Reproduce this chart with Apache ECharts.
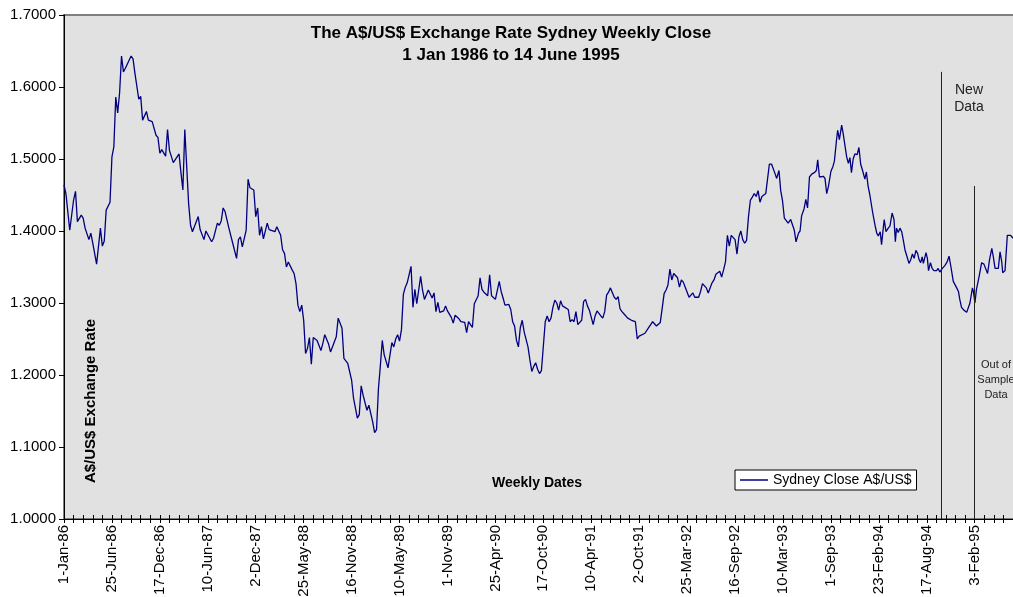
<!DOCTYPE html>
<html>
<head>
<meta charset="UTF-8">
<title>A$/US$ Exchange Rate Sydney Weekly Close</title>
<script src="https://cdn.jsdelivr.net/npm/echarts@6/dist/echarts.min.js"></script>
<style>
    html, body { margin: 0; padding: 0; background: #fff; }
    #main { width: 1013px; height: 597px; }
</style>
</head>
<body>
<div id="main"></div>
<script>
// tick labels, one every 25 weeks
var dateLabels = ['1-Jan-86', '25-Jun-86', '17-Dec-86', '10-Jun-87', '2-Dec-87', '25-May-88', '16-Nov-88',
    '10-May-89', '1-Nov-89', '25-Apr-90', '17-Oct-90', '10-Apr-91', '2-Oct-91', '25-Mar-92', '16-Sep-92',
    '10-Mar-93', '1-Sep-93', '23-Feb-94', '17-Aug-94', '3-Feb-95'];

// [week since 1-Jan-86, A$/US$ close]
var closeByWeek = [
    [0,1.464],[1,1.452],[3,1.401],[5,1.443],[6,1.455],[7,1.413],[8,1.411],[9,1.422],[10,1.418],[11,1.404],
    [13,1.388],[14,1.397],[15,1.383],[17,1.354],[18,1.355],[19,1.404],[20,1.379],[21,1.386],[22,1.429],[24,1.440],
    [25,1.503],[26,1.517],[27,1.586],[28,1.564],[29,1.592],[30,1.643],[31,1.621],[32,1.626],[33,1.624],[35,1.643],
    [36,1.639],[37,1.619],[39,1.583],[40,1.587],[41,1.554],[43,1.566],[44,1.554],[45,1.556],[46,1.552],[47,1.550],
    [48,1.533],[49,1.530],[50,1.508],[51,1.513],[53,1.504],[54,1.541],[55,1.512],[56,1.511],[57,1.495],[60,1.507],
    [61,1.481],[62,1.457],[63,1.541],[65,1.438],[66,1.408],[67,1.399],[68,1.399],[70,1.420],[71,1.402],[73,1.388],
    [74,1.400],[75,1.398],[77,1.385],[78,1.390],[79,1.392],[80,1.411],[81,1.408],[82,1.414],[83,1.432],[84,1.427],
    [86,1.404],[87,1.403],[88,1.383],[90,1.362],[91,1.388],[92,1.392],[93,1.378],[94,1.379],[95,1.401],[96,1.472],
    [97,1.460],[99,1.457],[100,1.420],[101,1.432],[102,1.394],[103,1.406],[104,1.389],[105,1.389],[106,1.411],[107,1.402],
    [108,1.403],[110,1.399],[111,1.406],[113,1.394],[114,1.374],[115,1.369],[116,1.350],[117,1.357],[119,1.346],[120,1.341],
    [121,1.327],[122,1.297],[123,1.288],[124,1.297],[125,1.276],[126,1.230],[127,1.237],[128,1.252],[129,1.215],[130,1.252],
    [131,1.254],[132,1.248],[134,1.234],[135,1.244],[136,1.256],[138,1.243],[139,1.232],[140,1.239],[141,1.241],[142,1.253],
    [143,1.279],[144,1.277],[145,1.265],[146,1.223],[148,1.216],[149,1.214],[150,1.193],[151,1.168],[153,1.140],[154,1.145],
    [155,1.185],[156,1.172],[157,1.170],[158,1.151],[159,1.158],[160,1.158],[161,1.135],[162,1.120],[163,1.124],[164,1.181],
    [165,1.213],[166,1.248],[167,1.228],[168,1.226],[169,1.210],[171,1.245],[172,1.239],[173,1.250],[174,1.256],[175,1.247],
    [176,1.263],[177,1.312],[178,1.322],[179,1.328],[180,1.328],[181,1.351],[182,1.294],[183,1.319],[184,1.299],[186,1.337],
    [187,1.318],[188,1.305],[189,1.305],[190,1.318],[191,1.318],[192,1.307],[193,1.314],[194,1.288],[195,1.301],[196,1.287],
    [198,1.289],[199,1.296],[200,1.289],[202,1.280],[203,1.272],[204,1.283],[205,1.281],[206,1.278],[207,1.274],[209,1.273],
    [210,1.259],[211,1.274],[212,1.270],[213,1.266],[214,1.299],[215,1.298],[216,1.310],[217,1.335],[218,1.319],[219,1.315],
    [221,1.310],[222,1.339],[223,1.310],[224,1.310],[225,1.305],[226,1.304],[227,1.330],[228,1.316],[229,1.307],[230,1.297],
    [232,1.298],[233,1.291],[234,1.274],[235,1.268],[236,1.248],[237,1.239],[238,1.266],[239,1.276],[240,1.260],[241,1.260],
    [242,1.239],[243,1.221],[244,1.205],[245,1.212],[246,1.217],[247,1.208],[248,1.202],[249,1.206],[250,1.205],[251,1.274],
    [252,1.282],[253,1.274],[254,1.279],[255,1.294],[256,1.304],[257,1.300],[258,1.290],[259,1.303],[260,1.296],[261,1.294],
    [263,1.291],[264,1.274],[265,1.277],[266,1.274],[267,1.288],[268,1.270],[269,1.273],[270,1.276],[271,1.302],[272,1.305],
    [273,1.296],[274,1.290],[275,1.289],[276,1.270],[277,1.282],[278,1.289],[280,1.282],[281,1.279],[282,1.288],[283,1.311],
    [284,1.315],[285,1.321],[287,1.308],[288,1.305],[289,1.309],[290,1.292],[291,1.288],[292,1.285],[294,1.279],[295,1.280],
    [296,1.276],[297,1.278],[298,1.274],[299,1.250],[300,1.254],[301,1.253],[303,1.258],[304,1.259],[305,1.266],[306,1.270],
    [307,1.274],[308,1.273],[309,1.268],[310,1.270],[311,1.273],[312,1.293],[313,1.313],[314,1.318],[315,1.325],[316,1.347],
    [317,1.332],[318,1.341],[319,1.341],[320,1.335],[321,1.322],[322,1.332],[323,1.329],[324,1.322],[325,1.315],[326,1.308],
    [327,1.306],[328,1.314],[329,1.308],[331,1.308],[332,1.316],[333,1.327],[334,1.326],[335,1.321],[336,1.314],[337,1.312],
    [338,1.328],[339,1.332],[340,1.340],[341,1.340],[342,1.344],[343,1.336],[344,1.346],[345,1.357],[346,1.394],[347,1.379],
    [348,1.394],[349,1.392],[350,1.388],[351,1.368],[352,1.392],[353,1.400],[354,1.388],[355,1.383],[356,1.387],[357,1.420],
    [358,1.443],[359,1.447],[360,1.452],[361,1.448],[362,1.456],[363,1.440],[364,1.448],[365,1.447],[366,1.452],[367.9,1.493],
    [369.0,1.493],[369.9,1.491],[370.8,1.480],[371.7,1.473],[372.9,1.484],[373.8,1.456],[374.7,1.443],[375.7,1.418],[376.5,1.419],[377.7,1.411],
    [379.0,1.416],[380.0,1.414],[380.9,1.401],[381.8,1.385],[383.1,1.397],[383.9,1.400],[384.7,1.421],[386.0,1.431],[386.9,1.444],[387.8,1.432],
    [388.8,1.475],[390.0,1.479],[391.3,1.481],[392.4,1.484],[393.1,1.499],[394.0,1.475],[394.9,1.477],[396.0,1.476],[396.9,1.473],[397.8,1.452],
    [398.7,1.462],[400.0,1.483],[401.1,1.490],[401.8,1.497],[402.9,1.526],[403.5,1.540],[404.4,1.527],[405.6,1.547],[406.4,1.535],[407.3,1.519],
    [408.2,1.503],[409.1,1.494],[409.9,1.502],[410.7,1.481],[411.6,1.500],[412.5,1.507],[413.7,1.506],[414.6,1.516],[415.5,1.493],[416.5,1.484],
    [417.7,1.472],[418.5,1.482],[419.4,1.462],[420.3,1.450],[421.8,1.425],[423.0,1.408],[423.9,1.397],[424.7,1.393],[425.7,1.399],[426.4,1.381],
    [427.3,1.404],[427.8,1.416],[428.7,1.399],[429.9,1.404],[430.8,1.407],[431.9,1.425],[432.9,1.416],[433.6,1.385],[434.2,1.404],[435.1,1.398],
    [436.0,1.404],[436.9,1.399],[437.7,1.388],[438.6,1.374],[439.5,1.366],[440.7,1.355],[441.6,1.360],[442.5,1.368],[443.4,1.362],[444.3,1.373],
    [445.2,1.369],[446.0,1.360],[446.8,1.356],[447.6,1.364],[448.2,1.355],[449.0,1.357],[449.6,1.370],[450.3,1.362],[450.9,1.345],[451.9,1.356],
    [452.8,1.348],[453.7,1.345],[455.1,1.345],[455.9,1.348],[456.8,1.343],[458.1,1.348],[459.4,1.352],[460.6,1.357],[461.6,1.365],[462.6,1.350],
    [463.8,1.330],[464.7,1.329],[465.6,1.321],[466.5,1.316],[467.2,1.305],[468.1,1.294],[469.4,1.290],[470.8,1.287],[471.6,1.288],[472.5,1.300],
    [473.8,1.321],[474.3,1.316],[475.1,1.300],[475.9,1.319],[477.3,1.337],[478.6,1.356],[479.8,1.354],[480.8,1.355],[481.7,1.341],[482.7,1.360],
    [483.9,1.376],[484.7,1.364],[485.6,1.348],[486.5,1.346],[487.3,1.348],[488.2,1.371],[489.1,1.357],[489.6,1.342],[490.8,1.345],[492.0,1.394],
    [492.8,1.392],[493.7,1.394],[495.0,1.390]
];

// divider lines: [week, top of line]
var newDataLine = [457.5, 1.621];
var outSampleLine = [475, 1.4625];

var font = '"Liberation Sans", Arial, sans-serif';
var myChart = echarts.init(document.getElementById('main'), null, { renderer: 'canvas' });

var option = {
    animation: false,
    backgroundColor: '#fff',
    title: {
        text: 'The A$/US$ Exchange Rate Sydney Weekly Close\n1 Jan 1986 to 14 June 1995',
        left: 506,
        top: 17,
        textAlign: 'center',
        textStyle: { fontFamily: font, fontSize: 17, fontWeight: 'bold', color: '#000', lineHeight: 22 }
    },
    legend: {
        data: ['Sydney Close A$/US$'],
        left: 735,
        top: 470,
        backgroundColor: '#fff',
        borderColor: '#000',
        borderWidth: 1,
        borderRadius: 0,
        padding: [3, 5, 3, 5],
        icon: 'rect',
        itemWidth: 28,
        itemHeight: 1.5,
        itemGap: 0,
        textStyle: { fontFamily: font, fontSize: 14, color: '#000' }
    },
    grid: {
        left: 64,
        right: -2,
        top: 15,
        bottom: 78,
        containLabel: false,
        outerBoundsMode: 'none',
        show: true,
        backgroundColor: '#e1e1e1',
        borderColor: '#7f7f7f',
        borderWidth: 2
    },
    xAxis: [
        {
            type: 'value',
            min: 0,
            max: 496,
            interval: 5,
            position: 'bottom',
            axisLine: { lineStyle: { color: '#000', width: 1 } },
            axisTick: { length: 4, lineStyle: { color: '#000' } },
            splitLine: { show: false },
            axisLabel: {
                rotate: 90,
                margin: 6,
                fontFamily: font,
                fontSize: 15,
                color: '#000',
                showMaxLabel: false,
                formatter: function (v) {
                    return v % 25 === 0 ? (dateLabels[v / 25] || '') : '';
                }
            }
        },
        {
            type: 'value',
            min: 0,
            max: 496,
            interval: 5,
            position: 'bottom',
            axisLine: { show: false },
            axisTick: { inside: true, length: 4, lineStyle: { color: '#000' } },
            axisLabel: { show: false },
            splitLine: { show: false }
        }
    ],
    yAxis: {
        type: 'value',
        min: 1,
        max: 1.7,
        interval: 0.1,
        axisLine: { show: true, lineStyle: { color: '#000', width: 1 } },
        axisTick: { show: true, length: 5, lineStyle: { color: '#000' } },
        splitLine: { show: false },
        axisLabel: {
            margin: 8,
            fontFamily: font,
            fontSize: 15,
            color: '#000',
            formatter: function (v) { return v.toFixed(4); }
        }
    },
    graphic: [
        {
            type: 'text', x: 91, y: 401, rotation: Math.PI / 2,
            style: { text: 'A$/US$ Exchange Rate', font: 'bold 15px ' + font, fill: '#000', align: 'center', verticalAlign: 'middle' }
        },
        {
            type: 'text', x: 537, y: 483,
            style: { text: 'Weekly Dates', font: 'bold 14px ' + font, fill: '#000', align: 'center', verticalAlign: 'middle' }
        },
        {
            type: 'text', x: 969, y: 99,
            style: { text: 'New\nData', font: '14px ' + font, fill: '#222', align: 'center', verticalAlign: 'middle', lineHeight: 17 }
        },
        {
            type: 'text', x: 996, y: 380,
            style: { text: 'Out of\nSample\nData', font: '11px ' + font, fill: '#222', align: 'center', verticalAlign: 'middle', lineHeight: 15 }
        }
    ],
    series: [
        {
            name: 'Sydney Close A$/US$',
            type: 'line',
            xAxisIndex: 0,
            data: closeByWeek,
            symbol: 'none',
            showSymbol: false,
            clip: true,
            lineStyle: { color: '#000080', width: 1.3 },
            itemStyle: { color: '#000080' },
            emphasis: { disabled: true },
            markLine: {
                silent: true,
                symbol: ['none', 'none'],
                label: { show: false },
                lineStyle: { color: '#222', width: 1, type: 'solid' },
                emphasis: { disabled: true },
                data: [
                    [{ coord: [newDataLine[0], 1] }, { coord: [newDataLine[0], newDataLine[1]] }],
                    [{ coord: [outSampleLine[0], 1] }, { coord: [outSampleLine[0], outSampleLine[1]] }]
                ]
            }
        }
    ]
};

myChart.setOption(option);
</script>
</body>
</html>
